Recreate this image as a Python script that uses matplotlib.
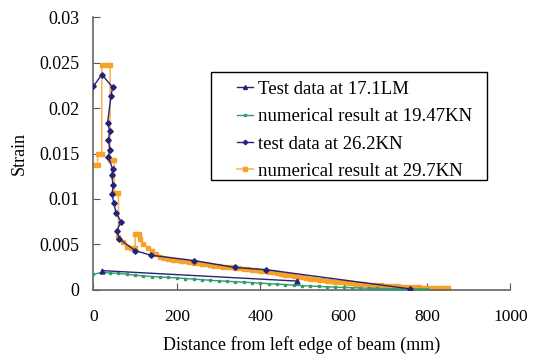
import matplotlib
matplotlib.use("Agg")
import matplotlib.pyplot as plt
from matplotlib.patches import Rectangle

plt.rcParams['font.family'] = ['Liberation Serif', 'DejaVu Serif']

# Test data at 17.1LM
x_t17 = [21, 489]
y_t17 = [0.0021, 0.00095]

# numerical result at 19.47KN
x_n19 = [0, 20, 40, 60, 80, 100, 120, 140, 160, 180, 200, 220, 240, 260, 280, 300,
         320, 340, 360, 380, 400, 420, 440, 460, 480, 500, 520, 540, 560, 580, 600,
         620, 640, 660, 680, 700, 720, 740, 760, 780, 800]
y_n19 = [0.0017, 0.0019, 0.00185, 0.0018, 0.0017, 0.0016, 0.00152, 0.00145, 0.0014,
         0.00135, 0.0013, 0.00123, 0.00117, 0.0011, 0.00104, 0.00098, 0.00093, 0.00088,
         0.00083, 0.00078, 0.00073, 0.00067, 0.00062, 0.00056, 0.0005, 0.00045,
         0.0004, 0.00036, 0.00032, 0.00028, 0.00025, 0.00022, 0.00019, 0.00016,
         0.00014, 0.00012, 0.00011, 0.0001, 0.00009, 0.00008, 0.00008]

# test data at 26.2KN
x_t26 = [0, 20, 46, 42, 34, 39, 36, 39, 36, 46, 44, 47, 45, 49, 54, 66, 56, 62,
         100, 138, 242, 339, 415, 758]
y_t26 = [0.0224, 0.0237, 0.0223, 0.0213, 0.0184, 0.0175, 0.0165, 0.0154, 0.0146,
         0.0133, 0.0126, 0.0115, 0.0105, 0.0095, 0.0085, 0.0075, 0.0065, 0.0056,
         0.0043, 0.0038, 0.0032, 0.00245, 0.0022, 0.0001]

# numerical result at 29.7KN
x_n29 = [0, 10, 10, 20, 20, 30, 40, 40, 50, 50, 60, 60, 70, 80, 90, 100, 100, 110,
         112, 120, 130, 140, 150, 160, 170, 180, 190, 200, 210, 220, 230, 240, 250,
         260, 270, 280, 290, 300, 310, 320, 330, 340, 350, 360, 370, 380, 390, 400,
         410, 420, 430, 440, 450, 460, 470, 480, 490, 500, 510, 520, 530, 540, 550,
         560, 570, 580, 590, 600, 610, 620, 630, 640, 650, 660, 670, 680, 690, 700,
         710, 720, 730, 740, 750, 760, 770, 780, 790, 800, 810, 820, 830, 840, 850]
y_n29 = [0.0137, 0.0137, 0.0150, 0.0150, 0.0248, 0.0248, 0.0248, 0.0143, 0.0143,
         0.0107, 0.0107, 0.0058, 0.0052, 0.0047, 0.0046, 0.0046, 0.0061, 0.0061,
         0.0056, 0.0050, 0.00463, 0.00426, 0.00393, 0.00364, 0.00346, 0.00335,
         0.00327, 0.00327, 0.0032, 0.00313, 0.00305, 0.00298, 0.0029, 0.00285,
         0.0028, 0.00273, 0.00266, 0.0026, 0.00255, 0.0025, 0.00245, 0.0024,
         0.00235, 0.0023, 0.00226, 0.0022, 0.00215, 0.0021, 0.00205, 0.00198,
         0.0019, 0.00182, 0.00174, 0.00166, 0.00158, 0.0015, 0.00143, 0.00136,
         0.0013, 0.00123, 0.00117, 0.00111, 0.00105, 0.001, 0.00095, 0.0009,
         0.00085, 0.0008, 0.00076, 0.00072, 0.00068, 0.00064, 0.0006, 0.00057,
         0.00053, 0.0005, 0.00047, 0.00044, 0.00041, 0.00038, 0.00036, 0.00033,
         0.00031, 0.00029, 0.00027, 0.00025, 0.00023, 0.00021, 0.0002, 0.00018,
         0.00017, 0.00016, 0.00015]

navy = '#23237a'
green = '#2e9e6c'
orange = '#f7a128'

fig = plt.figure(figsize=(5.37, 3.57), dpi=100)
ax = fig.add_axes([0.174, 0.1885, 0.7765, 0.763])

ax.plot(x_n29, y_n29, color='#f8b85a', lw=1.2, marker='s', ms=3,
        mfc=orange, mec=orange, label='numerical result at 29.7KN', zorder=2)
ax.plot(x_n19, y_n19, color=green, lw=1.0, marker='s', ms=2,
        mfc=green, mec=green, label='numerical result at 19.47KN', zorder=3)
ax.plot(x_t17, y_t17, color=navy, lw=1.0, marker='^', ms=3.5,
        label='Test data at 17.1LM', zorder=4)
ax.plot(x_t26, y_t26, color=navy, lw=1.0, marker='D', ms=2.8,
        label='test data at 26.2KN', zorder=4)

ax.set_xlim(0, 1000)
ax.set_ylim(0, 0.03)
ax.set_xticks([0, 200, 400, 600, 800, 1000])
ax.set_yticks([0, 0.005, 0.01, 0.015, 0.02, 0.025, 0.03])
ax.set_yticklabels(['0', '0.005', '0.01', '0.015', '0.02', '0.025', '0.03'])
ax.tick_params(direction='in', length=5, labelsize=13, color='#555555')
ax.tick_params(axis='x', pad=14, labelsize=12.5)
ax.tick_params(axis='y', pad=10)
for s in ['top', 'right']:
    ax.spines[s].set_visible(False)
for s in ['left', 'bottom']:
    ax.spines[s].set_color('#666666')
    ax.spines[s].set_linewidth(1.2)

ax.set_xlabel('Distance from left edge of beam (mm)', fontsize=13, labelpad=8)
ax.set_ylabel('Strain', fontsize=13, labelpad=8)

# legend box drawn separately (wide side padding like the original)
ax.add_patch(Rectangle((0.2818, 0.4027), 0.6618, 0.3963, transform=ax.transAxes,
                       fill=True, facecolor='white', edgecolor='black', lw=1.0,
                       zorder=5))
h, l = ax.get_legend_handles_labels()
order = [2, 1, 3, 0]
leg = ax.legend([h[i] for i in order], [l[i] for i in order],
                loc='upper left', bbox_to_anchor=(0.344, 0.768), borderaxespad=0,
                fontsize=13.5, frameon=False, handlelength=0.85,
                labelspacing=0.55, borderpad=0, handletextpad=0.25, markerscale=0.8)
leg.set_zorder(6)

fig.savefig('out.png', dpi=100)
